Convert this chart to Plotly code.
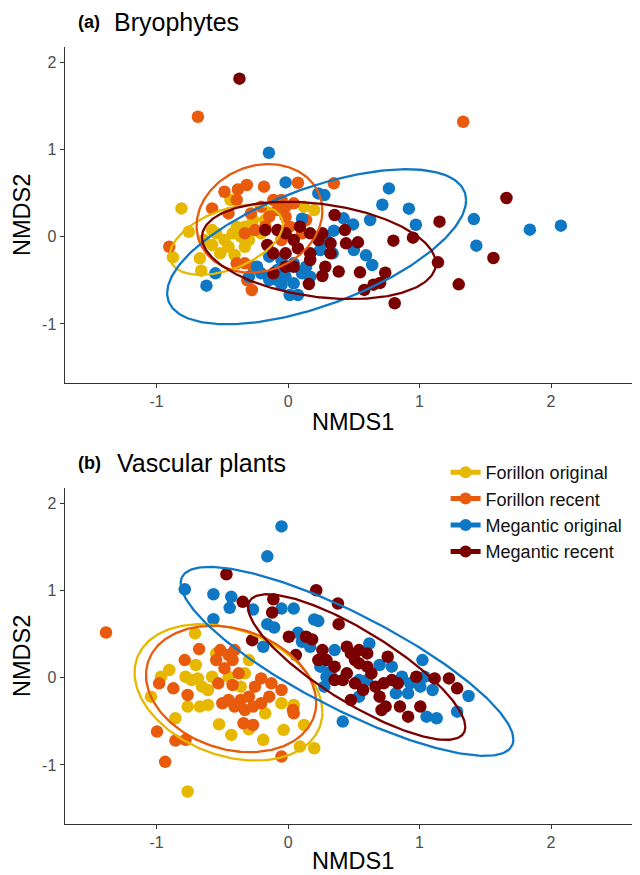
import numpy as np
import plotly.graph_objects as go

groups = ["Forillon original", "Forillon recent", "Megantic original", "Megantic recent"]
colors = ["#E6B800", "#E85A0C", "#0F78C4", "#7A0000"]

# ---------- (a) Bryophytes ----------
bry_fo_x = [-0.661, -0.876, -0.811, -0.755, -0.671, -0.438, 0.121, 0.199,
            -0.547, -0.484, -0.422, -0.36, -0.453, -0.516, -0.578, -0.329, -0.267,
            -0.391, -0.174, -0.143, -0.329, -0.407, -0.578, -0.640, -0.298, -0.205]
bry_fo_y = [-0.389, -0.237, 0.324, 0.057, -0.248, 0.42, 0.344, 0.305,
            0.038, -0.038, 0.038, 0.0, -0.115, -0.191, -0.095, 0.115, 0.191,
            0.115, 0.191, 0.267, -0.115, -0.21, 0.076, -0.038, -0.038, 0.038]

bry_fr_x = [-0.686, 1.332, -0.276, -0.31, -0.904, -0.484, -0.382, -0.314, -0.183,
            0.075, 0.348, -0.578, -0.112, -0.019,
            -0.283, -0.205, -0.143, -0.081, -0.019, 0.012, -0.174, -0.252, -0.329,
            -0.391, -0.453, -0.05, 0.043, 0.137, 0.106, -0.05, -0.329, -0.391, -0.267]
bry_fr_y = [1.374, 1.317, -0.611, -0.5, -0.115, 0.515, 0.542, 0.592, 0.573,
            0.618, 0.611, 0.324, 0.42, 0.344,
            0.267, 0.344, 0.229, 0.305, 0.229, 0.115, 0.115, 0.076, 0.038,
            0.42, 0.267, 0.42, 0.382, 0.191, 0.038, -0.038, -0.305, -0.305, -0.344]

bry_mo_x = [-0.146, 2.075, 1.839, 1.413, 1.432, 0.767, 0.717, 0.919, 0.972, 0.624,
            0.593, 0.640, 0.494, 0.422, 0.348, 0.339, 0.5, 0.075, 0.012, -0.05,
            -0.081, -0.621, -0.553, -0.019, 0.23, 0.276, 0.106,
            -0.143, -0.05, 0.043, -0.081, -0.019, 0.106, 0.137, -0.205, -0.143,
            0.043, 0.245, 0.168, -0.298, -0.236, 0.292]
bry_mo_y = [0.962, 0.126, 0.080, 0.202, -0.103, 0.553, 0.366, 0.321, 0.137, 0.191,
            -0.214, -0.324, 0.141, 0.21, 0.069, -0.191, -0.153, -0.668, -0.668, -0.553,
            -0.496, -0.561, -0.42, 0.622, 0.496, 0.477, 0.206,
            -0.229, -0.267, -0.305, -0.382, -0.458, -0.42, -0.344, -0.42, -0.496,
            -0.534, -0.153, -0.458, -0.458, -0.344, -0.038]

bry_mr_x = [-0.37, 1.661, 1.562, 1.298, 1.152, 1.14, 0.811, 0.950, 0.801, 0.739,
            0.70, 0.65, 0.58, 0.547, 0.385, 0.531, 0.441, 0.432, 0.354, 0.283,
            0.261, 0.158,
            -0.174, -0.081, -0.158, -0.112, -0.019, 0.043, 0.075, -0.019, 0.168,
            0.23, 0.168, 0.09, 0.043, -0.019, -0.112, 0.168, 0.261, 0.323, 0.323]
bry_mr_y = [1.81, 0.443, -0.244, -0.546, 0.172, -0.294, -0.763, -0.011, -0.046, -0.412,
            -0.53, -0.55, -0.61, -0.408, -0.40, -0.065, -0.076, 0.076, 0.248, -0.344,
            -0.45, -0.542,
            0.076, 0.076, -0.095, -0.191, 0.038, -0.038, -0.134, -0.191, 0.038,
            -0.038, -0.191, 0.115, -0.344, -0.344, -0.42, -0.267, 0.038, -0.076, -0.191]

# ---------- (b) Vascular plants ----------
vas_fo_x = [-0.708, -0.702, -0.686, -0.904, -0.966, -1.043, -0.733, -0.655, -0.78,
            -0.764, -0.671, -0.609, -0.857, -0.764, -0.525, -0.432, -0.298, -0.189,
            -0.034, 0.09, 0.199, 0.121, 0.043, -0.05, -0.174,
            -0.578, -0.329, -0.298, -0.36, -0.453, -0.609, -0.547]
vas_fo_y = [0.507, 0.145, -0.008, 0.088, 0.011, -0.217, -0.027, -0.103, 0.011,
            -0.331, -0.331, -0.312, -0.465, -1.303, -0.533, -0.655, -0.59, -0.712,
            -0.598, -0.789, -0.808, -0.541, -0.312, -0.293, -0.408,
            0.011, 0.05, 0.202, -0.103, 0.011, -0.141, 0.278]

vas_fr_x = [-1.385, -0.677, -0.786, -0.516, -0.453, -0.407, -0.547, -0.422, -0.484,
            -0.981, -0.873, -0.764, -0.997, -0.857, -0.78, -0.935, -0.05, 0.037, 0.043,
            -0.339, -0.267,
            -0.205, -0.127, -0.05, -0.143, -0.205, -0.267, -0.329, -0.407, -0.453,
            -0.36, -0.298, -0.252, -0.5, -0.531, -0.422, -0.376]
vas_fr_y = [0.518, 0.328, 0.202, 0.316, 0.259, 0.316, 0.202, 0.202, 0.107,
            -0.065, -0.122, -0.198, -0.617, -0.72, -0.712, -0.964, -0.903, -0.37, -0.408,
            -0.522, -0.541,
            -0.008, -0.065, -0.141, -0.217, -0.293, -0.331, -0.37, -0.331, -0.255,
            -0.255, -0.217, -0.103, -0.293, -0.065, -0.084, 0.05]

vas_mo_x = [-0.05, -0.158, -0.786, -0.568, -0.432, -0.444, -0.05, 0.043, -0.267,
            -0.568, -0.158, -0.106, 0.199, 0.23, 0.075, 0.106, -0.189,
            0.416, 0.276, 0.292, 0.323, 0.245, 0.618, 0.54, 0.696, 0.789, 0.866,
            1.022, 1.037, 1.006, 1.099, 1.053, 1.13, 1.286, 1.373, 0.913, 0.82,
            0.602, 0.54, 0.354, 0.929, 0.168]
vas_mo_y = [1.733, 1.39, 1.013, 0.956, 0.926, 0.8, 0.792, 0.792, 0.781,
            0.67, 0.613, 0.575, 0.667, 0.648, 0.514, 0.411, 0.354,
            -0.503, -0.103, 0.011, 0.069, 0.126, 0.392, -0.027, 0.145, 0.126, 0.011,
            0.202, 0.011, -0.103, -0.141, -0.446, -0.465, -0.389, -0.21, -0.179, -0.179,
            -0.027, -0.217, 0.316, -0.065, 0.354]

vas_mr_x = [-0.469, 0.214, 0.379, -0.345, -0.112, -0.121, 0.385, 0.006, 0.137, 0.183,
            -0.273, 0.261, 0.292, 0.354, 0.447, 0.478, 0.509, 0.540, 0.447, 0.416,
            0.509, 0.602, 0.634, 0.571, 0.665, 0.727, 0.758, 0.789, 0.835, 0.696,
            0.742, 0.851, 0.913, 0.975, 1.006, 1.115, 1.224, 1.286, 0.540, 0.602,
            0.354, 0.478, 0.23, 0.711, 0.059]
vas_mr_y = [1.185, 1.002, 0.85, 0.869, 0.899, 0.747, 0.613, 0.469, 0.469, 0.438,
            0.43, 0.316, 0.202, 0.126, 0.354, 0.278, 0.202, 0.316, 0.050, -0.027,
            -0.065, 0.278, 0.050, -0.141, -0.103, -0.065, 0.24, -0.027, -0.065, -0.217,
            -0.331, -0.331, -0.446, 0.011, -0.331, -0.008, -0.008, -0.122, 0.164, 0.126,
            -0.027, -0.255, 0.202, -0.37, 0.259]

# ellipse parameters (centre, x half-extent, y half-extent, correlation) per group
bry_ell_cx = [-0.47, -0.2175, 0.217, 0.2345]
bry_ell_cy = [-0.0375, 0.21, -0.115, -0.157]
bry_ell_rx = [0.43, 0.4785, 1.137, 0.8895]
bry_ell_ry = [0.40, 0.622, 0.888, 0.5575]
bry_ell_rho = [0.45, 0.14, 0.60, -0.27]

vas_ell_cx = [-0.4535, -0.4335, 0.4485, 0.522]
vas_ell_cy = [-0.168, -0.1295, 0.187, 0.122]
vas_ell_rx = [0.7145, 0.6475, 1.2655, 0.826]
vas_ell_ry = [0.781, 0.7235, 1.082, 0.834]
vas_ell_rho = [-0.29, -0.22, -0.827, -0.822]

FONT = "Liberation Sans, Arial, sans-serif"
W, H = 632, 867
fig = go.Figure()


def ellipse(cx, cy, rx, ry, rho):
    t = np.linspace(0, 2 * np.pi, 241)
    ex = cx + rx * np.cos(t)
    ey = cy + ry * (rho * np.cos(t) + np.sqrt(1 - rho ** 2) * np.sin(t))
    return ex, ey


panels = [
    ("x", "y", [(bry_fo_x, bry_fo_y), (bry_fr_x, bry_fr_y), (bry_mo_x, bry_mo_y), (bry_mr_x, bry_mr_y)],
     (bry_ell_cx, bry_ell_cy, bry_ell_rx, bry_ell_ry, bry_ell_rho)),
    ("x2", "y2", [(vas_fo_x, vas_fo_y), (vas_fr_x, vas_fr_y), (vas_mo_x, vas_mo_y), (vas_mr_x, vas_mr_y)],
     (vas_ell_cx, vas_ell_cy, vas_ell_rx, vas_ell_ry, vas_ell_rho)),
]

for xa, ya, pts, ell in panels:
    for i, (px, py) in enumerate(pts):
        fig.add_trace(go.Scatter(x=px, y=py, mode="markers", xaxis=xa, yaxis=ya,
                                 marker=dict(size=12.5, color=colors[i], line=dict(width=0)),
                                 showlegend=False, hoverinfo="skip"))
    for i in range(4):
        ex, ey = ellipse(ell[0][i], ell[1][i], ell[2][i], ell[3][i], ell[4][i])
        fig.add_trace(go.Scatter(x=ex, y=ey, mode="lines", xaxis=xa, yaxis=ya,
                                 line=dict(color=colors[i], width=2.3),
                                 showlegend=False, hoverinfo="skip"))

# legend entries
for i, g in enumerate(groups):
    fig.add_trace(go.Scatter(x=[None], y=[None], mode="lines+markers", name=g,
                             xaxis="x2", yaxis="y2",
                             marker=dict(size=11, color=colors[i]),
                             line=dict(color=colors[i], width=2.2)))

axis_common = dict(showline=True, linecolor="#333333", linewidth=1.1, ticks="outside",
                   ticklen=4, tickcolor="#333333", tickwidth=1.1,
                   tickfont=dict(family=FONT, size=16, color="#4D4D4D"),
                   showgrid=False, zeroline=False, tickvals=[-1, 0, 1, 2],
                   ticktext=["-1", "0", "1", "2"])

x_dom = [56.6 / W, 1.0]
fig.update_layout(
    width=W, height=H,
    margin=dict(l=0, r=0, t=0, b=0),
    paper_bgcolor="white", plot_bgcolor="white",
    font=dict(family=FONT),
    xaxis=dict(domain=x_dom, range=[-1.7, 2.677], anchor="y", **axis_common),
    yaxis=dict(domain=[0.5676, 0.9552], range=[-1.675, 2.175], anchor="x", **axis_common),
    xaxis2=dict(domain=x_dom, range=[-1.7, 2.677], anchor="y2", **axis_common),
    yaxis2=dict(domain=[0.0589, 0.4466], range=[-1.675, 2.175], anchor="x2", **axis_common),
    legend=dict(x=437.6 / W, y=0.4856, xanchor="left", yanchor="top", bgcolor="rgba(0,0,0,0)",
                font=dict(family=FONT, size=18, color="#111111"), itemsizing="constant",
                tracegroupgap=0),
    showlegend=True,
)

ann = [
    dict(text="<b>(a)</b>", x=68 / W, y=0.9839, size=18),
    dict(text="Bryophytes", x=104 / W, y=0.9839, size=25),
    dict(text="<b>(b)</b>", x=68 / W, y=0.4752, size=18),
    dict(text="Vascular plants", x=107 / W, y=0.4752, size=25),
]
for a in ann:
    fig.add_annotation(text=a["text"], x=a["x"], y=a["y"], xref="paper", yref="paper",
                       xanchor="left", yanchor="middle", showarrow=False,
                       font=dict(family=FONT, size=a["size"], color="black"))

for yy in [0.5225, 0.0161]:
    fig.add_annotation(text="NMDS1", x=345 / W, y=yy, xref="paper", yref="paper",
                       xanchor="center", yanchor="middle", showarrow=False,
                       font=dict(family=FONT, size=23.5, color="black"))
for yy in [0.7612, 0.2526]:
    fig.add_annotation(text="NMDS2", x=14 / W, y=yy, xref="paper", yref="paper",
                       xanchor="center", yanchor="middle", showarrow=False, textangle=-90,
                       font=dict(family=FONT, size=23.5, color="black"))

fig.write_html("out.html")
